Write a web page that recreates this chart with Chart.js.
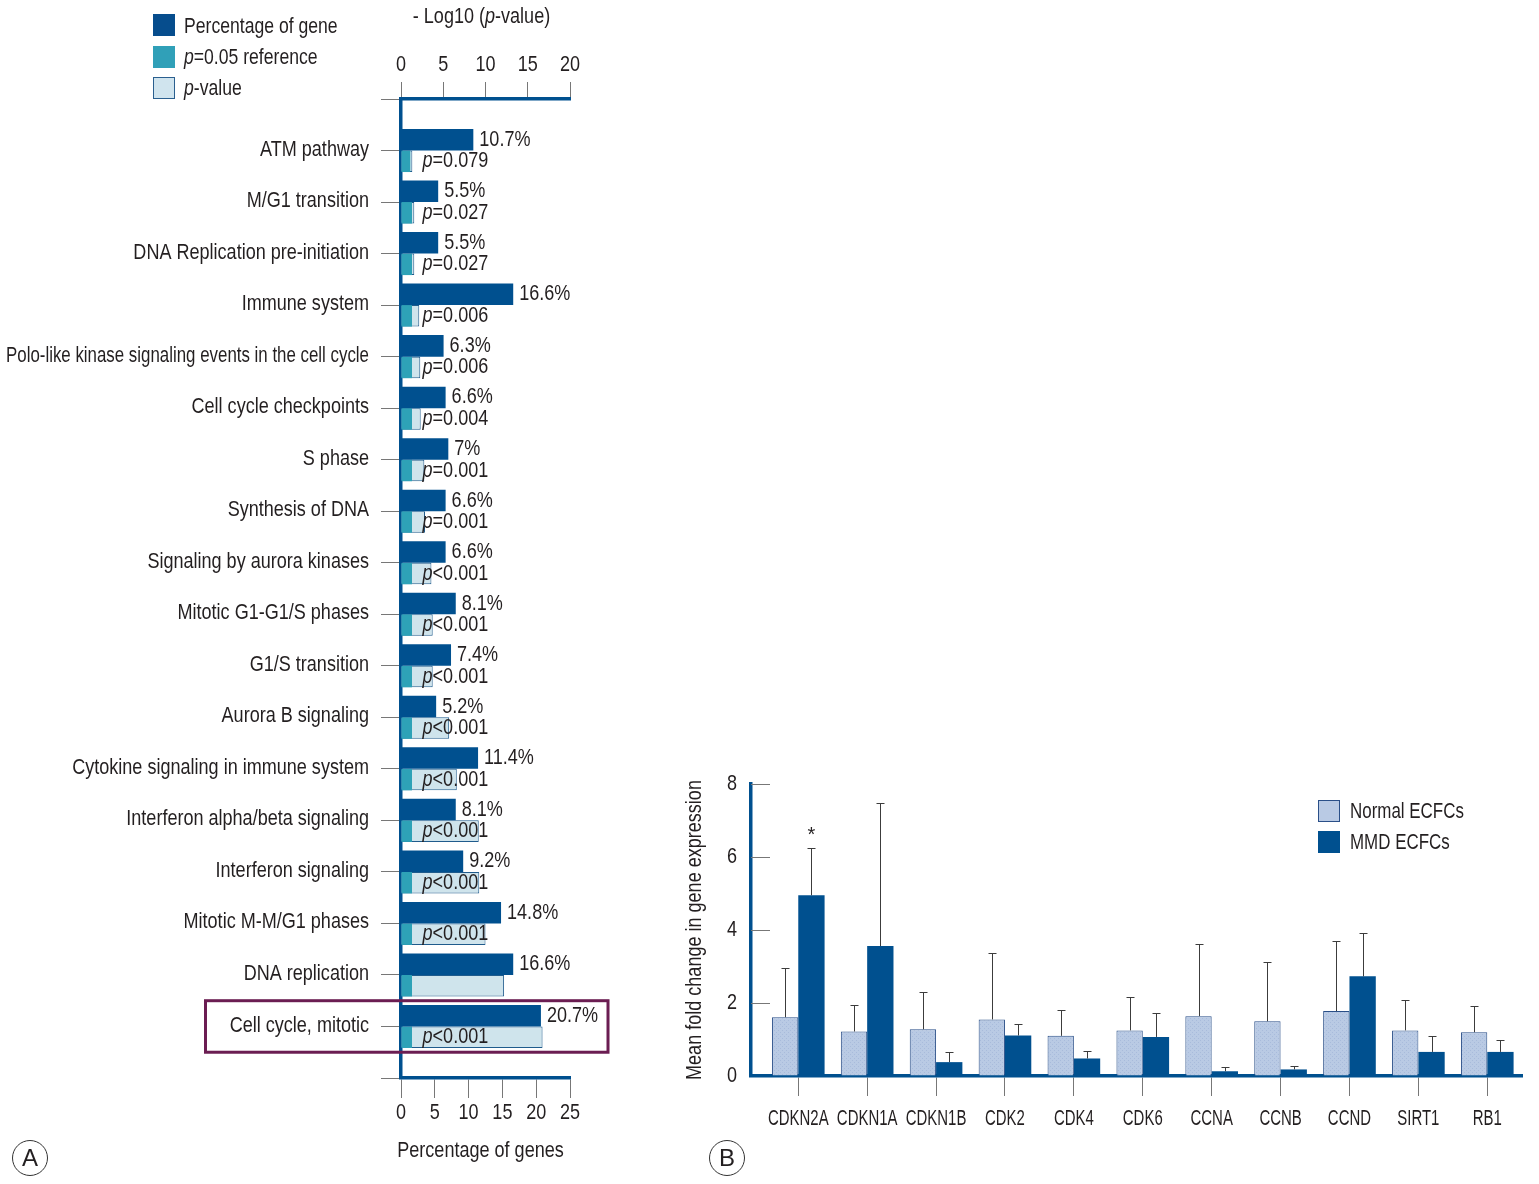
<!DOCTYPE html>
<html>
<head>
<meta charset="utf-8">
<script src="https://cdn.jsdelivr.net/npm/chart.js@4.4.1/dist/chart.umd.min.js"></script>
<style>
  body { margin: 0; background: #fff; width: 1539px; height: 1184px; position: relative; overflow: hidden;
         font-family: 'Liberation Sans', Arial, sans-serif; color: #231f20; }
  #wrapA { position: absolute; left: 0; top: 0; width: 640px; height: 1184px; }
  #wrapB { position: absolute; left: 660px; top: 740px; width: 879px; height: 444px; }
  .sw { position: absolute; width: 22px; height: 22px; box-sizing: border-box; }
  .lt { position: absolute; font-size: 22px; line-height: 24px; white-space: nowrap;
        transform: scaleX(0.8); transform-origin: 0 50%; }
  .lt.b { transform: scaleX(0.77); }
  .tag { position: absolute; width: 34px; height: 34px; border: 1.5px solid #333; border-radius: 50%;
         font-size: 24px; line-height: 34px; text-align: center; }
</style>
</head>
<body>
<div id="wrapA"><canvas id="chartA" width="640" height="1184"></canvas></div>
<div id="wrapB"><canvas id="chartB" width="879" height="444"></canvas></div>

<!-- legend A -->
<div class="sw" style="left:153px;top:14px;background:#064d8d"></div>
<div class="lt" style="left:184px;top:14px">Percentage of gene</div>
<div class="sw" style="left:153px;top:46px;background:#30a0b8"></div>
<div class="lt" style="left:184px;top:45px"><i>p</i>=0.05 reference</div>
<div class="sw" style="left:153px;top:77px;background:#d0e4ee;border:1px solid #2a5f8f"></div>
<div class="lt" style="left:184px;top:76px"><i>p</i>-value</div>

<!-- legend B -->
<div class="sw" style="left:1318px;top:800px;background:#b9cae4;border:1px solid #2a4f88"></div>
<div class="lt b" style="left:1350px;top:799px">Normal ECFCs</div>
<div class="sw" style="left:1318px;top:831px;background:#00508f"></div>
<div class="lt b" style="left:1350px;top:830px">MMD ECFCs</div>

<div class="tag" style="left:12px;top:1140px">A</div>
<div class="tag" style="left:709px;top:1140px">B</div>

<script>
const FONT = "'Liberation Sans', Arial, sans-serif";
const TEXT = '#231f20';
const BLUE = '#00508f';
const SX = 0.82;   // horizontal squeeze to mimic the condensed face

// ---- panel A data
const pathways = [
  'ATM pathway', 'M/G1 transition', 'DNA Replication pre-initiation', 'Immune system',
  'Polo-like kinase signaling events in the cell cycle', 'Cell cycle checkpoints', 'S phase',
  'Synthesis of DNA', 'Signaling by aurora kinases', 'Mitotic G1-G1/S phases', 'G1/S transition',
  'Aurora B signaling', 'Cytokine signaling in immune system', 'Interferon alpha/beta signaling',
  'Interferon signaling', 'Mitotic M-M/G1 phases', 'DNA replication', 'Cell cycle, mitotic'
];
const genePct = [10.7, 5.5, 5.5, 16.6, 6.3, 6.6, 7, 6.6, 6.6, 8.1, 7.4, 5.2, 11.4, 8.1, 9.2, 14.8, 16.6, 20.7];
const negLogP = [1.34, 1.57, 1.57, 2.16, 2.28, 2.33, 2.76, 2.84, 3.6, 3.75, 3.75, 5.7, 6.6, 9.2, 9.26, 10.0, 12.2, 16.75];
const refLogP = [1.1, 1.3, 1.3, 1.3, 1.3, 1.3, 1.3, 1.3, 1.3, 1.3, 1.3, 1.3, 1.3, 1.3, 1.3, 1.3, 1.3, 1.3];
const pText = ['=0.079', '=0.027', '=0.027', '=0.006', '=0.006', '=0.004', '=0.001', '=0.001',
  '<0.001', '<0.001', '<0.001', '<0.001', '<0.001', '<0.001', '<0.001', '<0.001', '', '<0.001'];
const pctTicks = [0, 5, 10, 15, 20, 25];
const logTicks = [0, 5, 10, 15, 20];

// ---- panel B data
const genes = ['CDKN2A', 'CDKN1A', 'CDKN1B', 'CDK2', 'CDK4', 'CDK6', 'CCNA', 'CCNB', 'CCND', 'SIRT1', 'RB1'];
const normalMean = [1.61, 1.22, 1.28, 1.55, 1.10, 1.25, 1.64, 1.50, 1.78, 1.25, 1.20];
const normalErr  = [1.36, 0.72, 1.01, 1.83, 0.70, 0.91, 1.97, 1.62, 1.91, 0.82, 0.71];
const mmdMean    = [4.95, 3.56, 0.38, 1.11, 0.48, 1.07, 0.13, 0.18, 2.73, 0.66, 0.66];
const mmdErr     = [1.29, 3.91, 0.29, 0.31, 0.21, 0.65, 0.11, 0.10, 1.19, 0.43, 0.34];
const signif     = ['*', '', '', '', '', '', '', '', '', '', ''];
const foldTicks = [0, 2, 4, 6, 8];

// draw a line of text made of [string, italic] runs, squeezed horizontally
function drawRuns(ctx, runs, x, y, align, size, opts) {
  opts = opts || {};
  ctx.save();
  ctx.fillStyle = TEXT;
  ctx.textBaseline = 'middle';
  ctx.textAlign = 'left';
  const fontOf = r => (r[1] ? 'italic ' : '') + size + 'px ' + FONT;
  let w = 0;
  runs.forEach(r => { ctx.font = fontOf(r); w += ctx.measureText(r[0]).width; });
  let sx = opts.sx || SX;
  if (opts.maxW && w * sx > opts.maxW) sx = opts.maxW / w;
  let cx = align === 'right' ? -w : align === 'center' ? -w / 2 : 0;
  ctx.translate(x, y);
  if (opts.rot) ctx.rotate(opts.rot);
  ctx.scale(sx, 1);
  runs.forEach(r => {
    ctx.font = fontOf(r);
    ctx.fillText(r[0], cx, 0);
    cx += ctx.measureText(r[0]).width;
  });
  ctx.restore();
}

const annotA = {
  id: 'annotA',
  afterDraw(chart) {
    const ctx = chart.ctx;
    const area = chart.chartArea;
    const ys = chart.scales.y, xP = chart.scales.xP, xPct = chart.scales.xPct;

    // category labels
    ys.ticks.forEach(t => {
      const name = pathways[t.value];
      if (name) drawRuns(ctx, [[name, false]], area.left - 32, ys.getPixelForValue(t.value) - 1, 'right', 22, { maxW: 363 });
    });
    // axis numbers
    xP.ticks.forEach(t => drawRuns(ctx, [[String(t.value), false]], xP.getPixelForValue(t.value), 65, 'center', 22));
    xPct.ticks.forEach(t => drawRuns(ctx, [[String(t.value), false]], xPct.getPixelForValue(t.value), 1113, 'center', 22));
    // axis titles
    const mid = (area.left + area.right) / 2;
    drawRuns(ctx, [['- Log10 (', false], ['p', true], ['-value)', false]], mid - 4, 17, 'center', 22);
    drawRuns(ctx, [['Percentage of genes', false]], mid - 5, 1151, 'center', 22);

    // value labels
    chart.getDatasetMeta(0).data.forEach((bar, i) => {
      drawRuns(ctx, [[genePct[i] + '%', false]], bar.x + 6, bar.y, 'left', 22);
    });
    const px = xP.getPixelForValue(2.55);
    chart.getDatasetMeta(2).data.forEach((bar, i) => {
      if (pText[i]) drawRuns(ctx, [['p', true], [pText[i], false]], px, bar.y, 'left', 22);
    });

    // highlight box around the last row
    const last = pathways.length - 1;
    const top = ys.getPixelForValue(last - 0.5);
    const bot = ys.getPixelForValue(last + 0.5);
    ctx.save();
    ctx.strokeStyle = '#6b1d52';
    ctx.lineWidth = 3;
    ctx.strokeRect(205.5, top, area.right + 38 - 205.5, bot - top);
    ctx.restore();
  }
};

new Chart(document.getElementById('chartA'), {
  type: 'bar',
  data: {
    datasets: [
      { label: 'Percentage of gene', data: genePct.map((v, i) => ({ x: v, y: i })),
        xAxisID: 'xPct', backgroundColor: BLUE, stack: 'pct' },
      { label: 'p=0.05 reference', data: refLogP.map((v, i) => ({ x: v, y: i })),
        xAxisID: 'xP', backgroundColor: '#2ea2b7', stack: 'p' },
      { label: 'p-value', data: negLogP.map((v, i) => ({ x: v, y: i })),
        xAxisID: 'xP', backgroundColor: '#cfe4ec', borderColor: '#1f5b8c', borderWidth: 1, stack: 'p' }
    ]
  },
  options: {
    indexAxis: 'y',
    responsive: false,
    animation: false,
    categoryPercentage: 0.835,
    barPercentage: 1,
    layout: { padding: { left: 0, right: 70, top: 0, bottom: 0 } },
    plugins: { legend: { display: false }, tooltip: { enabled: false } },
    scales: {
      y: {
        type: 'linear', reverse: true, min: -1, max: pathways.length, offset: false,
        afterBuildTicks: s => {
          s.ticks = [];
          for (let i = -1; i <= pathways.length; i++) s.ticks.push({ value: i });
        },
        afterFit: s => { s.width = 401; },
        ticks: { display: false },
        grid: { drawOnChartArea: false, offset: false, tickLength: 20, color: '#777', lineWidth: 1 },
        border: { color: BLUE, width: 3.5 }
      },
      xP: {
        type: 'linear', position: 'top', min: 0, max: 20, stacked: false,
        afterBuildTicks: s => { s.ticks = logTicks.map(v => ({ value: v })); },
        afterFit: s => { s.height = 99; },
        ticks: { display: false },
        grid: { drawOnChartArea: false, tickLength: 17, color: '#777', lineWidth: 1 },
        border: { color: BLUE, width: 3.5 }
      },
      xPct: {
        type: 'linear', position: 'bottom', min: 0, max: 25, stacked: false,
        afterBuildTicks: s => { s.ticks = pctTicks.map(v => ({ value: v })); },
        afterFit: s => { s.height = 106; },
        ticks: { display: false },
        grid: { drawOnChartArea: false, tickLength: 20, color: '#777', lineWidth: 1 },
        border: { color: BLUE, width: 3.5 }
      }
    }
  },
  plugins: [annotA]
});

// dotted fill for the Normal bars
function dotPattern() {
  const c = document.createElement('canvas');
  c.width = 4; c.height = 4;
  const g = c.getContext('2d');
  g.fillStyle = '#b9cae4'; g.fillRect(0, 0, 4, 4);
  g.fillStyle = '#a8bbdb'; g.fillRect(0, 0, 1, 1); g.fillRect(2, 2, 1, 1);
  return g.createPattern(c, 'repeat');
}

const annotB = {
  id: 'annotB',
  afterDatasetsDraw(chart) {
    const ctx = chart.ctx;
    const ys = chart.scales.y;
    const means = [normalMean, mmdMean];
    const errs = [normalErr, mmdErr];
    ctx.save();
    ctx.strokeStyle = '#3c3c3c';
    ctx.lineWidth = 1;
    [0, 1].forEach(d => {
      chart.getDatasetMeta(d).data.forEach((bar, i) => {
        const yTop = Math.round(ys.getPixelForValue(means[d][i] + errs[d][i])) + 0.5;
        const x = Math.round(bar.x) + 0.5;
        ctx.beginPath();
        ctx.moveTo(x, bar.y);
        ctx.lineTo(x, yTop);
        ctx.moveTo(x - 4, yTop);
        ctx.lineTo(x + 4, yTop);
        ctx.stroke();
        if (d === 1 && signif[i]) drawRuns(ctx, [[signif[i], false]], x, yTop - 13, 'center', 20, { sx: 1 });
      });
    });
    ctx.restore();
  },
  afterDraw(chart) {
    const ctx = chart.ctx;
    const area = chart.chartArea;
    const xs = chart.scales.x, ys = chart.scales.y;
    // inward tick marks on the value axis
    ctx.save();
    ctx.strokeStyle = '#777';
    ctx.lineWidth = 1;
    ys.ticks.forEach(t => {
      const y = Math.round(ys.getPixelForValue(t.value)) + 0.5;
      if (t.value === 0) return;
      ctx.beginPath();
      ctx.moveTo(area.left, y);
      ctx.lineTo(area.left + 19, y);
      ctx.stroke();
    });
    ctx.restore();
    ys.ticks.forEach(t => drawRuns(ctx, [[String(t.value), false]], area.left - 14, ys.getPixelForValue(t.value), 'right', 22));
    xs.ticks.forEach(t => drawRuns(ctx, [[genes[t.value], false]], xs.getPixelForValue(t.value), area.bottom + 43, 'center', 22, { sx: 0.68 }));
    drawRuns(ctx, [['Mean fold change in gene expression', false]], 35, (area.top + area.bottom) / 2, 'center', 22, { rot: -Math.PI / 2 });
  }
};

new Chart(document.getElementById('chartB'), {
  type: 'bar',
  data: {
    datasets: [
      { label: 'Normal ECFCs', data: normalMean.map((v, i) => ({ x: i, y: v })),
        backgroundColor: dotPattern(), borderColor: '#2a4f88', borderWidth: 1 },
      { label: 'MMD ECFCs', data: mmdMean.map((v, i) => ({ x: i, y: v })),
        backgroundColor: BLUE }
    ]
  },
  options: {
    responsive: false,
    animation: false,
    categoryPercentage: 0.764,
    barPercentage: 1,
    layout: { padding: { left: 0, right: 17, top: 44, bottom: 0 } },
    plugins: { legend: { display: false }, tooltip: { enabled: false } },
    scales: {
      x: {
        type: 'linear', min: -0.686, max: 10.504, offset: false,
        afterBuildTicks: s => { s.ticks = genes.map((g, i) => ({ value: i })); },
        afterFit: s => { s.height = 108; },
        ticks: { display: false },
        grid: { drawOnChartArea: false, offset: false, tickLength: 20, color: '#777', lineWidth: 1 },
        border: { color: BLUE, width: 3.5 }
      },
      y: {
        min: 0, max: 8,
        afterBuildTicks: s => { s.ticks = foldTicks.map(v => ({ value: v })); },
        afterFit: s => { s.width = 91; },
        ticks: { display: false },
        grid: { drawOnChartArea: false, drawTicks: false },
        border: { color: BLUE, width: 3.5 }
      }
    }
  },
  plugins: [annotB]
});
</script>
</body>
</html>
